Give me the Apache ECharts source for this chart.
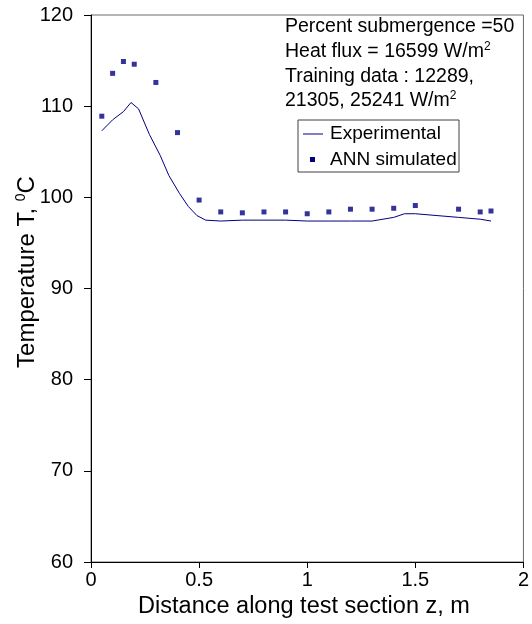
<!DOCTYPE html>
<html>
<head>
<meta charset="utf-8">
<script src="https://cdn.jsdelivr.net/npm/echarts@6/dist/echarts.min.js"></script>
<style>
html,body{margin:0;padding:0;background:#fff;}
#chart{width:532px;height:624px;}
</style>
</head>
<body>
<div id="chart"></div>
<script>
// Experimental curve (z, T)
const expZ = [0.05, 0.10, 0.15, 0.185, 0.22, 0.27, 0.32, 0.36, 0.41, 0.45, 0.49, 0.53, 0.60, 0.70, 0.80, 0.90, 1.00, 1.10, 1.20, 1.30, 1.40, 1.45, 1.50, 1.60, 1.70, 1.80, 1.85];
const expT = [107.3, 108.5, 109.4, 110.4, 109.7, 106.9, 104.6, 102.4, 100.4, 99.0, 98.0, 97.5, 97.4, 97.5, 97.5, 97.5, 97.4, 97.4, 97.4, 97.4, 97.8, 98.2, 98.2, 98.0, 97.8, 97.6, 97.4];
// ANN simulated points
const annZ = [0.05, 0.10, 0.15, 0.20, 0.30, 0.40, 0.50, 0.60, 0.70, 0.80, 0.90, 1.00, 1.10, 1.20, 1.30, 1.40, 1.50, 1.70, 1.80, 1.85];
const annT = [108.9, 113.6, 114.9, 114.6, 112.6, 107.1, 99.7, 98.4, 98.3, 98.4, 98.4, 98.2, 98.4, 98.7, 98.7, 98.8, 99.1, 98.7, 98.4, 98.5];
// Axis ticks
const xTicks = [0, 0.5, 1, 1.5, 2];
const yTicks = [60, 70, 80, 90, 100, 110, 120];
// Texts
const annotationLines = ['Percent submergence =50', 'Heat flux = 16599 W/m{sup|2}', 'Training data : 12289,', '21305, 25241 W/m{sup|2}'];
const legendNames = ['Experimental', 'ANN simulated'];
const xTitle = 'Distance along test section z, m';
const yTitle = 'Temperature T, {sup|0}C';

const FONT = 'Arial, "Liberation Sans", sans-serif';
const NAVY = '#000080';

const chart = echarts.init(document.getElementById('chart'), null, {renderer: 'canvas'});

const annotationY = [27, 52, 77, 101];
const graphics = [];
annotationLines.forEach((t, i) => {
  graphics.push({
    type: 'text', x: 285, y: annotationY[i], z: 10,
    style: {
      text: t, fill: '#000', fontFamily: FONT, fontSize: 19.5,
      verticalAlign: 'middle', align: 'left', lineHeight: 22,
      rich: { sup: { fontSize: 12, fontFamily: FONT, fill: '#000', verticalAlign: 'top', lineHeight: 12 } }
    }
  });
});
// legend box
graphics.push({ type: 'rect', z: 9, shape: { x: 298, y: 120, width: 161, height: 52 }, style: { fill: '#fff', stroke: '#404040', lineWidth: 1 } });
graphics.push({ type: 'line', z: 10, shape: { x1: 303, y1: 134, x2: 323, y2: 134 }, style: { stroke: NAVY, lineWidth: 1 } });
graphics.push({ type: 'rect', z: 10, shape: { x: 310, y: 157, width: 5, height: 5 }, style: { fill: NAVY } });
graphics.push({ type: 'text', z: 10, x: 330, y: 134, style: { text: legendNames[0], fill: '#000', fontFamily: FONT, fontSize: 19, verticalAlign: 'middle' } });
graphics.push({ type: 'text', z: 10, x: 330, y: 160, style: { text: legendNames[1], fill: '#000', fontFamily: FONT, fontSize: 19, verticalAlign: 'middle' } });
// axis titles
graphics.push({ type: 'text', z: 10, x: 304, y: 607, style: { text: xTitle, fill: '#000', fontFamily: FONT, fontSize: 23.5, align: 'center', verticalAlign: 'middle' } });
graphics.push({
  type: 'text', z: 10, x: 27, y: 272, rotation: Math.PI / 2,
  style: {
    text: yTitle, fill: '#000', fontFamily: FONT, fontSize: 24, align: 'center', verticalAlign: 'middle', lineHeight: 26,
    rich: { sup: { fontSize: 14, fontFamily: FONT, fill: '#000', verticalAlign: 'top', lineHeight: 14 } }
  }
});

chart.setOption({
  animation: false,
  backgroundColor: '#fff',
  grid: { left: 91, top: 15, right: 3, bottom: 62, show: true, borderColor: '#6a6a6a', borderWidth: 1, backgroundColor: 'transparent' },
  xAxis: {
    type: 'value', min: xTicks[0], max: xTicks[xTicks.length - 1], interval: 0.5,
    axisLine: { show: true, onZero: false, lineStyle: { color: '#000', width: 1 } },
    axisTick: { show: true, inside: false, length: 6, lineStyle: { color: '#000' } },
    splitLine: { show: false },
    axisLabel: { color: '#000', fontFamily: FONT, fontSize: 20, margin: 8, formatter: v => String(v) }
  },
  yAxis: {
    type: 'value', min: yTicks[0], max: yTicks[yTicks.length - 1], interval: 10,
    axisLine: { show: true, onZero: false, lineStyle: { color: '#000', width: 1 } },
    axisTick: { show: true, inside: false, length: 7, lineStyle: { color: '#000' } },
    splitLine: { show: false },
    axisLabel: { color: '#000', fontFamily: FONT, fontSize: 20, margin: 18 }
  },
  series: [
    {
      name: legendNames[0], type: 'line', data: expZ.map((z, i) => [z, expT[i]]),
      showSymbol: false, symbol: 'none', lineStyle: { color: NAVY, width: 1 }, z: 3
    },
    {
      name: legendNames[1], type: 'scatter', data: annZ.map((z, i) => [z, annT[i]]),
      symbol: 'rect', symbolSize: 5, itemStyle: { color: NAVY }, z: 4
    }
  ],
  graphic: graphics
});
</script>
</body>
</html>
